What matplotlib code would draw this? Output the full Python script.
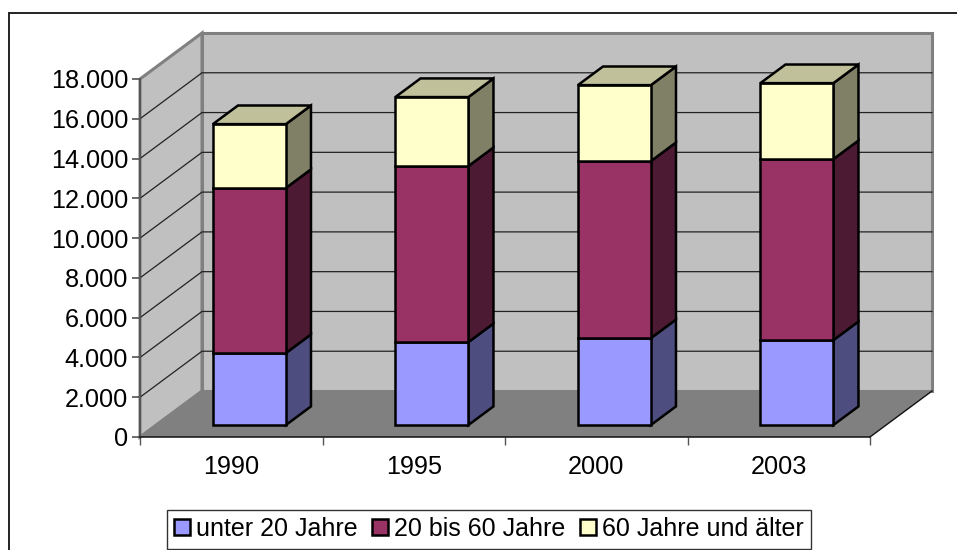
import matplotlib
matplotlib.use("Agg")
import matplotlib.pyplot as plt
from matplotlib.lines import Line2D
from matplotlib.patches import Patch, Polygon

plt.rcParams['font.family'] = ['Liberation Sans', 'DejaVu Sans']

years = ['1990', '1995', '2000', '2003']
under20 = [3620, 4170, 4370, 4270]
mid = [8300, 8850, 8900, 9100]
over60 = [3210, 3470, 3820, 3820]
series_names = ['unter 20 Jahre', '20 bis 60 Jahre', '60 Jahre und älter']
front_colors = ['#9999FF', '#993366', '#FFFFCC']
side_colors = ['#4D4D80', '#4D1A33', '#808066']
top_colors = ['#C0C0A0', '#C0C0A0', '#C0C09A']
y_ticks = [0, 2000, 4000, 6000, 8000, 10000, 12000, 14000, 16000, 18000]
y_labels = ['0', '2.000', '4.000', '6.000', '8.000', '10.000', '12.000', '14.000', '16.000', '18.000']

W, H = 957, 550
fig = plt.figure(figsize=(W / 100, H / 100), dpi=100, facecolor='white')
ax = fig.add_axes([140 / W, (H - 437) / H, 730 / W, 358 / H])
ax.set_xlim(-0.5, 3.5)
ax.set_ylim(0, 18000)
ax.patch.set_visible(False)

DX = 62 / 182.5
DY = 46 / 358 * 18000
BAR_W = 73 / 182.5
BAR_SHIFT = 2 / 182.5
D0, D1 = 0.26, 0.665


def proj(x, y, d=0.0):
    return (x + d * DX, y + d * DY)


def poly(pts, **kw):
    p = Polygon(pts, closed=True, clip_on=False, **kw)
    ax.add_patch(p)


x0, x1 = -0.5, 3.5
ymax = y_ticks[-1]
# walls and floor
poly([proj(x0, 0, 1), proj(x1, 0, 1), proj(x1, ymax, 1), proj(x0, ymax, 1)],
     facecolor='#C0C0C0', edgecolor='#808080', linewidth=2.2, zorder=1)
poly([proj(x0, 0, 0), proj(x0, 0, 1), proj(x0, ymax, 1), proj(x0, ymax, 0)],
     facecolor='#C0C0C0', edgecolor='#808080', linewidth=2.2, zorder=1)
for t in y_ticks[1:-1]:
    a, b, c = proj(x0, t, 0), proj(x0, t, 1), proj(x1, t, 1)
    ax.plot([a[0], b[0], c[0]], [a[1], b[1], c[1]], color='#222222',
            linewidth=0.9, clip_on=False, zorder=2, solid_joinstyle='miter')
poly([proj(x0, 0, 0), proj(x1, 0, 0), proj(x1, 0, 1), proj(x0, 0, 1)],
     facecolor='#808080', edgecolor='none', zorder=3)
a, b = proj(x1, 0, 0), proj(x1, 0, 1)
ax.plot([a[0], b[0]], [a[1], b[1]], color='#111111', linewidth=1, clip_on=False, zorder=3)

# stacked bars
for i, vals in enumerate(zip(under20, mid, over60)):
    left, right = i + BAR_SHIFT - BAR_W / 2, i + BAR_SHIFT + BAR_W / 2
    base = 0
    for k, v in enumerate(vals):
        top = base + v
        style = dict(edgecolor='black', linewidth=1.8, joinstyle='miter', zorder=5 + k)
        poly([proj(right, base, D0), proj(right, base, D1), proj(right, top, D1), proj(right, top, D0)],
             facecolor=side_colors[k], **style)
        poly([proj(left, base, D0), proj(right, base, D0), proj(right, top, D0), proj(left, top, D0)],
             facecolor=front_colors[k], **style)
        if k == len(vals) - 1:
            poly([proj(left, top, D0), proj(right, top, D0), proj(right, top, D1), proj(left, top, D1)],
                 facecolor=top_colors[k], **style)
        base = top

# axes
for s in ('top', 'right'):
    ax.spines[s].set_visible(False)
ax.spines['left'].set_color('#555555')
ax.spines['left'].set_linewidth(1.4)
ax.spines['bottom'].set_color('#111111')
ax.spines['bottom'].set_linewidth(1.1)
ax.spines['left'].set_zorder(4)
ax.spines['bottom'].set_zorder(4)
ax.set_yticks(y_ticks, y_labels)
ax.tick_params(axis='y', length=5.5, width=1.1, color='#444444', labelsize=18.2, pad=3)
ax.set_xticks(range(len(years)), years)
ax.tick_params(axis='x', which='major', length=0, labelsize=18.2, pad=13)
ax.set_xticks([x0 + i for i in range(len(years) + 1)], minor=True)
ax.tick_params(axis='x', which='minor', length=5.5, width=1.0, color='#555555')

# legend
handles = [Patch(facecolor=c, edgecolor='black', linewidth=1.8) for c in front_colors]
leg = ax.legend(handles, series_names, loc='center', ncol=3,
                bbox_to_anchor=(489 / W, 1 - 529 / H), bbox_transform=fig.transFigure,
                fontsize=18.0, fancybox=False, framealpha=1, edgecolor='#333333',
                handlelength=0.62, handleheight=0.62, handletextpad=0.25,
                columnspacing=0.6, borderpad=0.3, borderaxespad=0)
leg.get_frame().set_linewidth(1.0)

# chart frame: only the top and left edges fall inside the picture
fig.add_artist(Line2D([8.5 / W, 8.5 / W, 1], [0, 1 - 13 / H, 1 - 13 / H],
                      transform=fig.transFigure, color='#222222', linewidth=1.4,
                      solid_joinstyle='miter'))

fig.savefig('out.png', dpi=100)
